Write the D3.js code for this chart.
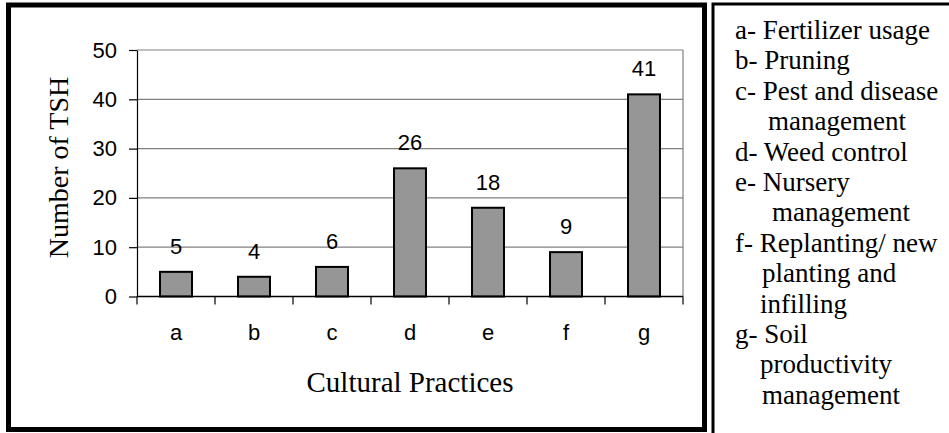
<!DOCTYPE html>
<html>
<head>
<meta charset="utf-8">
<script src="https://cdn.jsdelivr.net/npm/d3@7"></script>
<style>
  html, body { margin: 0; padding: 0; background: #fff; }
  svg { display: block; }
</style>
</head>
<body>
<svg id="chart" width="949" height="433"></svg>
<script>
// ---- data ----
const categories = ["a", "b", "c", "d", "e", "f", "g"];
const values = [5, 4, 6, 26, 18, 9, 41];
const yTicks = [0, 10, 20, 30, 40, 50];
const legendLines = [
  { text: "a- Fertilizer usage", indent: 0 },
  { text: "b- Pruning", indent: 0 },
  { text: "c- Pest and disease", indent: 0 },
  { text: "management", indent: 33 },
  { text: "d- Weed control", indent: 0 },
  { text: "e- Nursery", indent: 0 },
  { text: "management", indent: 37 },
  { text: "f- Replanting/ new", indent: 0 },
  { text: "planting and", indent: 27 },
  { text: "infilling", indent: 25 },
  { text: "g- Soil", indent: 0 },
  { text: "productivity", indent: 25 },
  { text: "management", indent: 27 }
];
const xTitle = "Cultural Practices";
const yTitle = "Number of TSH";

// ---- layout ----
const svg = d3.select("#chart");
const plot = { left: 137, right: 683, top: 50, bottom: 296.5 };
const sansFont = "'Liberation Sans', Arial, sans-serif";
const serifFont = "'Liberation Serif', 'Times New Roman', serif";

const x = d3.scaleBand().domain(categories)
  .range([plot.left, plot.right]).paddingInner(0.59).paddingOuter(0.295);
const y = d3.scaleLinear().domain([0, 50]).range([plot.bottom, plot.top]);

// outer frame of chart
svg.append("rect")
  .attr("x", 8.5).attr("y", 5).attr("width", 696).attr("height", 424.5)
  .attr("fill", "none").attr("stroke", "#000").attr("stroke-width", 5);

// legend frame
svg.append("rect")
  .attr("x", 713).attr("y", 4).attr("width", 260).attr("height", 460)
  .attr("fill", "none").attr("stroke", "#000").attr("stroke-width", 3);

// gridlines
svg.append("g").selectAll("line").data(yTicks.filter(d => d > 0)).join("line")
  .attr("x1", plot.left).attr("x2", plot.right)
  .attr("y1", d => y(d)).attr("y2", d => y(d))
  .attr("stroke", "#808080").attr("stroke-width", 1.2);
// right border of plot area
svg.append("line")
  .attr("x1", plot.right).attr("x2", plot.right)
  .attr("y1", plot.top).attr("y2", plot.bottom)
  .attr("stroke", "#808080").attr("stroke-width", 1.2);

// bars
svg.append("g").selectAll("rect").data(categories).join("rect")
  .attr("x", d => x(d)).attr("width", x.bandwidth())
  .attr("y", (d, i) => y(values[i]))
  .attr("height", (d, i) => y(0) - y(values[i]))
  .attr("fill", "#969696").attr("stroke", "#000").attr("stroke-width", 2);

// data labels
svg.append("g").selectAll("text").data(categories).join("text")
  .attr("x", d => x(d) + x.bandwidth() / 2)
  .attr("y", (d, i) => y(values[i]) - 18)
  .attr("text-anchor", "middle")
  .attr("font-family", sansFont).attr("font-size", 22)
  .attr("fill", "#000")
  .text((d, i) => values[i]);

// y axis
const yAxis = svg.append("g").attr("transform", `translate(${plot.left},0)`)
  .call(d3.axisLeft(y).tickValues(yTicks).tickSize(8).tickPadding(12).tickSizeOuter(0));
yAxis.select(".domain").attr("stroke", "#000").attr("stroke-width", 1.2);
yAxis.selectAll(".tick line").attr("stroke", "#000").attr("stroke-width", 1.2);
yAxis.selectAll(".tick text").attr("font-family", sansFont).attr("font-size", 22).attr("fill", "#000");

// x axis (ticks between categories)
const xAxisG = svg.append("g").attr("transform", `translate(0,${plot.bottom})`);
xAxisG.append("line")
  .attr("x1", plot.left).attr("x2", plot.right).attr("y1", 0).attr("y2", 0)
  .attr("stroke", "#000").attr("stroke-width", 1.5);
const boundaries = categories.map(c => x(c) - (x.step() - x.bandwidth()) / 2)
  .concat([plot.right]);
xAxisG.selectAll("line.tk").data(boundaries).join("line").attr("class", "tk")
  .attr("x1", d => d).attr("x2", d => d).attr("y1", 0).attr("y2", 8)
  .attr("stroke", "#000").attr("stroke-width", 1.2);
xAxisG.selectAll("text").data(categories).join("text")
  .attr("x", d => x(d) + x.bandwidth() / 2)
  .attr("y", 43.5)
  .attr("text-anchor", "middle")
  .attr("font-family", sansFont).attr("font-size", 22).attr("fill", "#000")
  .text(d => d);

// axis titles
svg.append("text")
  .attr("x", (plot.left + plot.right) / 2).attr("y", 391.5)
  .attr("text-anchor", "middle")
  .attr("font-family", serifFont).attr("font-size", 29).attr("fill", "#000")
  .text(xTitle);
svg.append("text")
  .attr("transform", `translate(68,167.5) rotate(-90)`)
  .attr("text-anchor", "middle")
  .attr("font-family", serifFont).attr("font-size", 28).attr("fill", "#000")
  .text(yTitle);

// legend text
svg.append("g").selectAll("text").data(legendLines).join("text")
  .attr("x", d => 735 + d.indent)
  .attr("y", (d, i) => 39 + i * 30.4)
  .attr("font-family", serifFont).attr("font-size", 27).attr("fill", "#000")
  .text(d => d.text);
</script>
</body>
</html>
